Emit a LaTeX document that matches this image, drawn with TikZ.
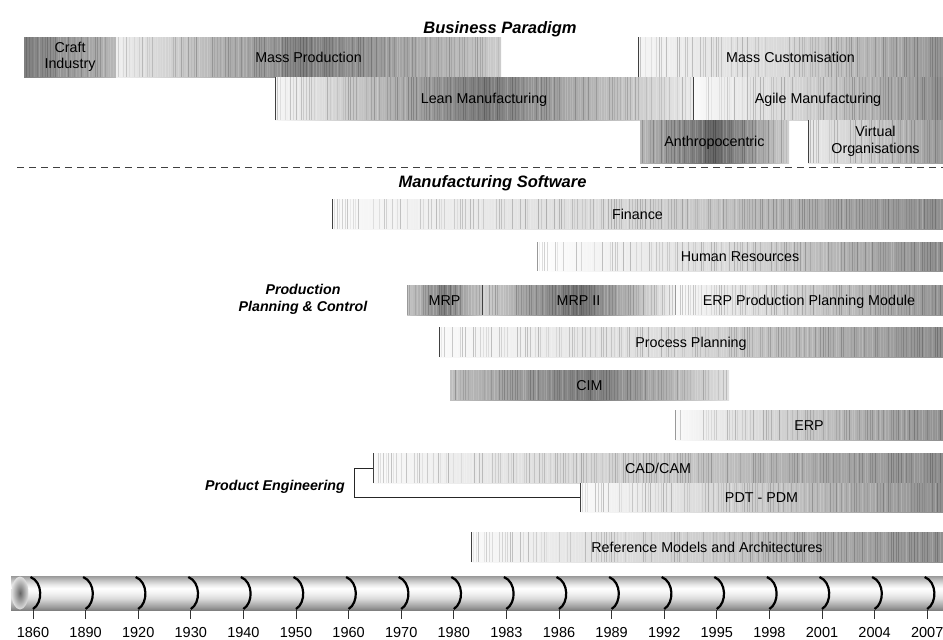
\documentclass[tikz,border=0pt]{standalone}
\usepackage{fontspec}
\setmainfont{Liberation Sans}
\usetikzlibrary{calc,shapes.geometric}

% horizontal bands of the time axis (the path is mapped to 25bp..75bp)
\pgfdeclareverticalshading{axisbands}{100bp}{%
  color(0bp)=(black!50); color(25bp)=(black!50); color(29bp)=(black!40);
  color(35bp)=(black!28); color(42bp)=(black!14); color(50bp)=(black!5);
  color(57bp)=(white); color(63bp)=(black!10); color(69bp)=(black!24);
  color(75bp)=(black!40); color(100bp)=(black!40)}

\newcommand\barfont{\fontsize{14.3}{15.5}\selectfont}
\newcommand\headfont{\fontsize{16.5}{18}\selectfont\bfseries\itshape}
\newcommand\groupfont{\fontsize{14.2}{17}\selectfont\bfseries\itshape}
\newcommand\yearfont{\fontsize{14.5}{15}\selectfont}

% a shaded period bar: name, x left, x right, y top, y bottom, options
\newcommand\tbar[6]{%
  \node[periodbar, #6, minimum width=#3-#2, minimum height=#5-#4]
    (#1) at ({(#2+#3)/2},{(#4+#5)/2})}

\begin{document}
\begin{tikzpicture}[x=1pt,y=-1pt,
  stripes/.style={path picture={%
    \pgfpointdiff{\pgfpointanchor{path picture bounding box}{south west}}%
                 {\pgfpointanchor{path picture bounding box}{south east}}%
    \pgfgetlastxy{\wx}{\wy}%
    \pgfmathtruncatemacro\nst{abs(\wx)/2.6}%
    \foreach \k in {1,...,\nst}{%
      \pgfmathsetmacro\sop{0.05+0.17*rnd}%
      \pgfmathtruncatemacro\sw{rnd<0.4}%
      \ifnum\sw=1 \def\sc{white}\else\def\sc{black}\fi
      \draw[\sc, opacity=\sop, line width=0.7pt]
        ($(path picture bounding box.north west)!\k/\nst!(path picture bounding box.north east)$) --
        ($(path picture bounding box.south west)!\k/\nst!(path picture bounding box.south east)$);
    }}},
  tone/.style n args={3}{left color=black!#1, right color=black!#3, middle color=black!#2},
  periodbar/.style={rectangle, inner sep=0pt, outer sep=0pt, stripes,
    font=\barfont, text=black, text height=10.3pt, text depth=0pt},
  twoline/.style={align=center, text height=, text depth=},
  leftedge/.style={draw=black!75, line width=0.9pt},
  softedge/.style={draw=black!40, line width=0.8pt},
  heading/.style={font=\headfont, anchor=base, inner sep=0pt},
  group/.style={font=\groupfont, inner sep=0pt},
  bracket/.style={draw=black!85, line width=0.9pt},
  separator/.style={draw=black!75, line width=0.9pt, dash pattern=on 7pt off 5pt},
  axisbar/.style={rectangle, inner sep=0pt, outer sep=0pt, shading=axisbands,
    minimum width=932, minimum height=34},
  blob/.style={ellipse, inner sep=0pt, minimum width=17, minimum height=33,
    inner color=black!60, outer color=black!12},
  yearmark/.style={draw=black, line width=2.2pt},
  tickline/.style={draw=black!80, line width=0.8pt},
  yearlbl/.style={font=\yearfont, anchor=base, inner sep=0pt}
]
\useasboundingbox (0,0) rectangle (943,640);
\pgfmathsetseed{11}

% ---------- business paradigms ----------
\node[heading] (bp) at (500,33) {Business Paradigm};

\tbar{craft}{24}{116}{37}{77}{tone={50}{40}{28}, twoline}{Craft\\Industry};
\tbar{mass}{116}{501}{37}{77}{tone={6}{50}{20}}{Mass Production};
\tbar{masscust}{638}{943}{37}{77}{tone={4}{16}{42}}{Mass Customisation};
\tbar{lean}{275}{693}{77}{120}{tone={3}{52}{8}}{Lean Manufacturing};
\tbar{agile}{693}{943}{77}{120}{tone={2}{20}{44}}{Agile Manufacturing};
\tbar{anthro}{640}{789}{120}{163}{tone={28}{60}{18}}{Anthropocentric};
\tbar{virtual}{808}{943}{120}{163}{tone={8}{22}{40}, twoline,
  font=\fontsize{14.3}{16.5}\selectfont}{Virtual\\Organisations};

\coordinate (sepL) at (17,167);
\coordinate (sepR) at (943,167);
\draw[separator] (sepL) -- (sepR);

% ---------- manufacturing software ----------
\node[heading] (ms) at (492.5,187) {Manufacturing Software};

\tbar{finance}{332}{943}{199}{229}{tone={2}{16}{44}}{Finance};
\tbar{hr}{537}{943}{242}{271}{tone={0}{15}{44}}{Human Resources};
\tbar{mrp}{407}{482}{285}{315}{tone={22}{50}{22}}{MRP};
\tbar{mrpii}{482}{675}{285}{315}{tone={18}{56}{5}}{MRP II};
\tbar{erppp}{675}{943}{285}{315}{tone={2}{20}{42}}{ERP Production Planning Module};
\tbar{process}{439}{943}{327}{357}{tone={2}{15}{44}}{Process Planning};
\tbar{cim}{450}{729}{370}{400}{tone={25}{52}{12}}{CIM};
\tbar{erp}{675}{943}{410}{440}{tone={2}{22}{44}}{ERP};
\tbar{cadcam}{373}{943}{453}{483}{tone={2}{20}{44}}{CAD/CAM};
\tbar{pdt}{580}{943}{483}{512}{tone={2}{20}{44}}{PDT - PDM};
\tbar{ref}{471}{943}{532}{562}{tone={2}{20}{44}}{Reference Models and Architectures};

\foreach \b in {lean,masscust,agile,virtual,finance,process,cadcam,pdt,ref,mrpii}
  \draw[leftedge] (\b.north west) -- (\b.south west);
\foreach \b in {hr,mrp,erppp,erp}
  \draw[softedge] (\b.north west) -- (\b.south west);

\node[group, align=center] (ppc) at (303,299) {Production\\Planning \& Control};
\node[group, anchor=base east] (pe) at (345,490) {Product Engineering};
\draw[bracket] (cadcam.west) -- ++(-19,0) |- (pdt.west);

% ---------- time axis ----------
\node[axisbar] (axis) at (477,593) {};
\node[blob] (blob) at (20,593) {};
\foreach \yr [count=\i from 0] in {1860,1890,1920,1930,1940,1950,1960,1970,1980,
                                   1983,1986,1989,1992,1995,1998,2001,2004,2007}{
  \pgfmathsetmacro\tx{33+52.6*\i}
  \draw[yearmark] (\tx-2.5,577) .. controls (\tx+10,582) and (\tx+10,603) .. (\tx,609);
  \node[yearlbl] (y\yr) at (\tx,637) {\yr};
  \draw[tickline] (axis.south -| y\yr) -- ++(0,9);
}
\end{tikzpicture}
\end{document}
